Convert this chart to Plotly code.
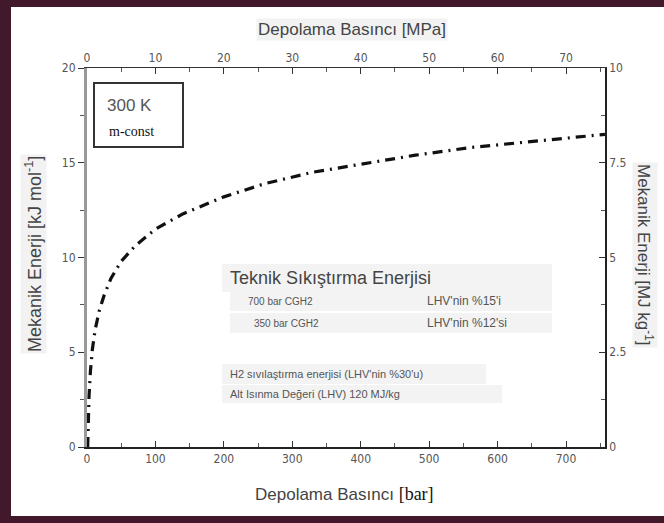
import plotly.graph_objects as go

# Isothermal compression energy of hydrogen at 300 K
pressure_bar = [1, 2, 3, 5, 8, 12, 18, 25, 35, 50, 70, 100, 140, 200, 260,
                330, 400, 480, 560, 640, 720, 757]
energy_kj_mol = [0.0, 1.7, 2.7, 4.0, 5.2, 6.2, 7.2, 8.0, 8.9, 9.8, 10.6, 11.5,
                 12.3, 13.2, 13.9, 14.5, 14.9, 15.4, 15.8, 16.1, 16.4, 16.5]

x_bar_ticks = [0, 100, 200, 300, 400, 500, 600, 700]
x_mpa_ticks = [0, 10, 20, 30, 40, 50, 60, 70]
y_kj_ticks = [0, 5, 10, 15, 20]
y_mj_ticks = [0, 2.5, 5, 7.5, 10]

W, H = 664, 523
L, R, T, B = 87, 605, 68, 447
PW, PH = R - L, B - T

def px(x):
    return (x - L) / PW

def py(y):
    return (B - y) / PH

TICK_FONT = dict(family="Liberation Sans Narrow, DejaVu Sans Condensed, sans-serif",
                 size=12, color="#555555")
SANS = "Liberation Sans, Arial, sans-serif"
SERIF = "Liberation Serif, Times New Roman, serif"
FRAME = "#42192b"

fig = go.Figure()
fig.add_trace(go.Scatter(
    x=pressure_bar, y=energy_kj_mol, mode="lines",
    line=dict(color="#111111", width=3.2, dash="10px,6px,2px,6px"),
    showlegend=False, hoverinfo="skip"))
# companion trace to activate the top and right axes
fig.add_trace(go.Scatter(x=[0], y=[0], xaxis="x2", yaxis="y2", mode="markers",
                         marker=dict(opacity=0), showlegend=False, hoverinfo="skip"))

fig.update_layout(
    width=W, height=H,
    margin=dict(l=L, r=W - R, t=T, b=H - B),
    paper_bgcolor="white", plot_bgcolor="white",
    xaxis=dict(range=[0, 757], tickvals=x_bar_ticks, ticks="inside", ticklen=6,
               tickcolor="#333", showline=True, linecolor="#222", linewidth=1.5,
               showgrid=False, zeroline=False, tickfont=TICK_FONT,
               minor=dict(dtick=50, ticks="inside", ticklen=4, tickcolor="#555")),
    xaxis2=dict(range=[0, 75.7], tickvals=x_mpa_ticks, overlaying="x", side="top",
                ticks="inside", ticklen=6, tickcolor="#333", showline=True,
                linecolor="#333", linewidth=1.2, showgrid=False, zeroline=False,
                tickfont=TICK_FONT,
                minor=dict(dtick=5, ticks="inside", ticklen=4, tickcolor="#555")),
    yaxis=dict(range=[0, 20], tickvals=y_kj_ticks, ticks="outside", ticklen=6,
               tickcolor="#333", showline=True, linecolor="#999999", linewidth=3,
               showgrid=False, zeroline=False, tickfont=TICK_FONT,
               minor=dict(dtick=2.5, ticks="outside", ticklen=4, tickcolor="#555")),
    yaxis2=dict(range=[0, 10], tickvals=y_mj_ticks, overlaying="y", side="right",
                ticks="inside", ticklen=6, tickcolor="#333", showline=True,
                linecolor="#222", linewidth=1.5, showgrid=False, zeroline=False,
                tickfont=TICK_FONT,
                minor=dict(dtick=1.25, ticks="inside", ticklen=4, tickcolor="#555")),
)

shapes = [
    # dark frame on the left, top and bottom edges
    dict(type="rect", xref="paper", yref="paper", x0=px(0), x1=px(11),
         y0=py(H), y1=py(0), fillcolor=FRAME, line=dict(width=0)),
    dict(type="rect", xref="paper", yref="paper", x0=px(0), x1=px(W),
         y0=py(7), y1=py(0), fillcolor=FRAME, line=dict(width=0)),
    dict(type="rect", xref="paper", yref="paper", x0=px(0), x1=px(W),
         y0=py(H), y1=py(516), fillcolor=FRAME, line=dict(width=0)),
    # inset box with conditions
    dict(type="rect", xref="paper", yref="paper",
         x0=px(94), x1=px(183), y0=py(147), y1=py(83),
         fillcolor="white", line=dict(color="#333", width=2)),
]
# faint backing strips behind the summary text
for x0, x1, y0, y1 in [(222, 552, 264, 292), (230, 552, 292, 311), (230, 552, 313, 333),
                       (222, 486, 364, 384), (222, 502, 385, 403)]:
    shapes.append(dict(type="rect", xref="paper", yref="paper", layer="below",
                       x0=px(x0), x1=px(x1), y0=py(y1), y1=py(y0),
                       fillcolor="#f3f3f3", line=dict(width=0)))
fig.update_layout(shapes=shapes)

def note(text, x, y, size, color="#444", family=SANS, xanchor="left", angle=0,
         bg=None, bold=False):
    fig.add_annotation(text=text, xref="paper", yref="paper", x=px(x), y=py(y),
                       xanchor=xanchor, yanchor="middle", showarrow=False,
                       textangle=angle, bgcolor=bg,
                       font=dict(family=family, size=size, color=color,
                                 weight="bold" if bold else "normal"))

note("Depolama Basıncı [MPa]", 352, 30, 17, xanchor="center", bg="#f2f2f2")
note("Depolama Basıncı <span style='font-family:Liberation Serif, serif;"
     "color:#111;font-size:18px'>[bar]</span>", 344, 494, 17, xanchor="center")
note("Mekanik Enerji [kJ mol<sup>-1</sup>]", 33, 254, 18, xanchor="center",
     angle=-90, bg="#f2f2f2")
note("Mekanik Enerji [MJ kg<sup>-1</sup>]", 645, 255, 17, xanchor="center",
     angle=90, bg="#f2f2f2")

note("300 K", 105, 105, 17, color="#555")
note("m-const", 107, 131, 14, color="#111", family=SERIF)

note("Teknik Sıkıştırma Enerjisi", 228, 278, 18, color="#444")
note("700 bar CGH2", 246, 301, 10, color="#555")
note("LHV'nin %15'i", 425, 301, 12, color="#555")
note("350 bar CGH2", 252, 323, 10, color="#555")
note("LHV'nin %12'si", 425, 323, 12, color="#555")
note("H2 sıvılaştırma enerjisi (LHV'nin %30'u)", 228, 374, 11, color="#555")
note("Alt Isınma Değeri (LHV) 120 MJ/kg", 228, 394, 11, color="#555")

fig.write_html("out.html")
